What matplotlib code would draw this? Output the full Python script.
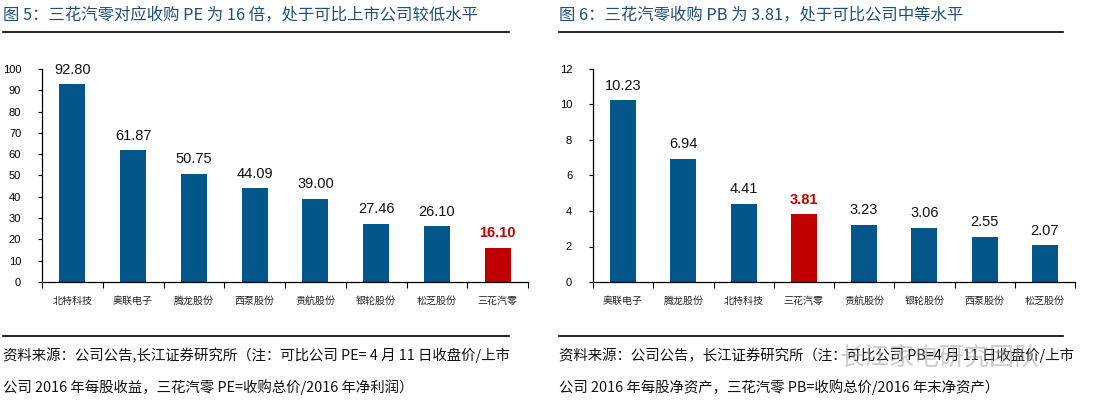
import matplotlib
matplotlib.use("Agg")
import matplotlib.pyplot as plt
import numpy as np

plt.rcParams['font.family'] = ['Noto Sans CJK SC', 'DejaVu Sans']

# Data
pe_companies = ['北特科技', '奥联电子', '腾龙股份', '西泵股份', '贵航股份', '银轮股份', '松芝股份', '三花汽零']
pe_values = [92.80, 61.87, 50.75, 44.09, 39.00, 27.46, 26.10, 16.10]
pb_companies = ['奥联电子', '腾龙股份', '北特科技', '三花汽零', '贵航股份', '银轮股份', '西泵股份', '松芝股份']
pb_values = [10.23, 6.94, 4.41, 3.81, 3.23, 3.06, 2.55, 2.07]
highlight = '三花汽零'

title_left = '图 5：三花汽零对应收购 PE 为 16 倍，处于可比上市公司较低水平'
title_right = '图 6：三花汽零收购 PB 为 3.81，处于可比公司中等水平'
note_left = ['资料来源：公司公告,长江证券研究所（注：可比公司 PE= 4 月 11 日收盘价/上市',
             '公司 2016 年每股收益，三花汽零 PE=收购总价/2016 年净利润）']
note_right = ['资料来源：公司公告，长江证券研究所（注：可比公司 PB=4 月 11 日收盘价/上市',
              '公司 2016 年每股净资产，三花汽零 PB=收购总价/2016 年末净资产）']

BLUE = '#02568A'
RED = '#C00000'
TITLE_C = '#1F4E79'
NUM_FONT = ['Liberation Sans', 'DejaVu Sans']

W, H = 1102, 407
fig = plt.figure(figsize=(W / 100, H / 100), dpi=100)


def fx(px):
    return px / W


def fy(py):
    return 1 - py / H


def draw(ax, cats, vals, ymax, ystep):
    x = np.arange(len(cats))
    colors = [RED if c == highlight else BLUE for c in cats]
    ax.bar(x, vals, width=0.43, color=colors, zorder=2)
    for xi, v, c in zip(x, vals, cats):
        red = c == highlight
        ax.text(xi, v + ymax * 0.035, f'{v:.2f}', ha='center', va='bottom',
                fontsize=10.5, color=RED if red else '#111111',
                fontweight='bold' if red else 'normal', family=NUM_FONT)
    ax.set_xlim(-0.5, len(cats) - 0.5)
    ax.set_ylim(0, ymax)
    ticks = np.arange(0, ymax + 0.01, ystep)
    ax.set_yticks(ticks)
    ax.set_yticklabels([f'{int(t)}' for t in ticks], family=NUM_FONT, fontsize=8)
    ax.set_xticks(x)
    ax.set_xticklabels(cats, fontsize=7.2, color='#222222')
    ax.tick_params(axis='x', length=0, pad=10)
    ax.set_xticks(np.arange(-0.5, len(cats) + 0.5, 1), minor=True)
    ax.tick_params(axis='x', which='minor', length=4, direction='out', width=0.8)
    ax.tick_params(axis='y', length=3, direction='out', width=0.8, pad=12)
    for s in ['top', 'right']:
        ax.spines[s].set_visible(False)
    for s in ['left', 'bottom']:
        ax.spines[s].set_linewidth(0.9)


ax1 = fig.add_axes([fx(42), fy(282), fx(528 - 42), (282 - 69) / H])
draw(ax1, pe_companies, pe_values, 100, 10)
ax2 = fig.add_axes([fx(593), fy(282), fx(1075 - 593), (282 - 69) / H])
draw(ax2, pb_companies, pb_values, 12, 2)

# titles and rules
fig.text(fx(3), fy(15), title_left, fontsize=11.8, color=TITLE_C, va='center', ha='left')
fig.text(fx(559), fy(15), title_right, fontsize=11.8, color=TITLE_C, va='center', ha='left')
for x0, x1 in [(3, 509), (559, 1063)]:
    fig.add_artist(plt.Line2D([fx(x0), fx(x1)], [fy(32), fy(32)], color='black', lw=1.2))
    fig.add_artist(plt.Line2D([fx(x0), fx(x1)], [fy(336), fy(336)], color='black', lw=1.2))

for i, line in enumerate(note_left):
    fig.text(fx(3), fy(355 + 32 * i), line, fontsize=10.4, color='#111111', va='center', ha='left')
for i, line in enumerate(note_right):
    fig.text(fx(559), fy(355 + 32 * i), line, fontsize=10.4, color='#111111', va='center', ha='left')

# watermark (overlaid, as in the reference)
fig.text(fx(840), fy(358), '长江家电研究团队', fontsize=18, color='#9a9a9a', alpha=0.5,
         va='center', ha='left')

fig.savefig('out.png', dpi=100)
